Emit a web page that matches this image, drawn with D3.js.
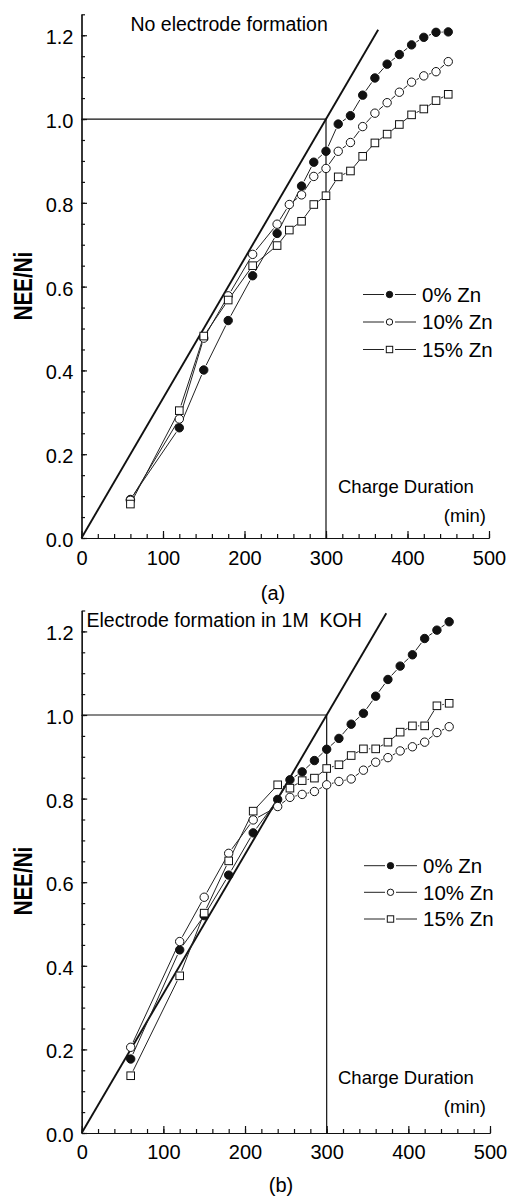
<!DOCTYPE html>
<html>
<head>
<meta charset="utf-8">
<script src="https://cdn.jsdelivr.net/npm/d3@7"></script>
<style>
  body { margin: 0; background: #fff; }
  svg text { font-family: "Liberation Sans", Arial, Helvetica, sans-serif; fill: #000; }
</style>
</head>
<body>
<svg id="chart" width="512" height="1197"></svg>
<script>
// ---- tick values ----
const xMajorTicks = [0, 100, 200, 300, 400, 500];
const xMinorTicks = d3.range(0, 501, 20);
const yMajorTicks = [0, 0.2, 0.4, 0.6, 0.8, 1.0, 1.2];
const yMinorTicks = d3.range(0, 1.2501, 0.05);
const yTickLabels = ["0.0", "0.2", "0.4", "0.6", "0.8", "1.0", "1.2"];

// ---- legend names ----
const seriesNames = ["0% Zn", "10% Zn", "15% Zn"];

// ---- reference: full charge at 300 min ----
const refTime = 300;
const refRatio = 1.0;
const diagEndA = 364;   // end of the theoretical line, panel (a)
const diagEndB = 373;   // end of the theoretical line, panel (b)

// ---- panel (a): no electrode formation ----
const timeA0 = [60, 120, 150, 180, 210, 240, 270, 285, 300, 315, 330, 345, 360, 375, 390, 405, 420, 435, 450];
const neeA0  = [0.092, 0.263, 0.401, 0.519, 0.626, 0.727, 0.840, 0.897, 0.923, 0.988, 1.008, 1.057, 1.098, 1.131, 1.154, 1.177, 1.195, 1.207, 1.208];
const timeA10 = [60, 120, 150, 180, 210, 240, 255, 270, 285, 300, 315, 330, 345, 360, 375, 390, 405, 420, 435, 450];
const neeA10  = [0.090, 0.284, 0.477, 0.578, 0.677, 0.749, 0.796, 0.819, 0.863, 0.882, 0.923, 0.944, 0.982, 1.014, 1.039, 1.064, 1.088, 1.103, 1.113, 1.137];
const timeA15 = [60, 120, 150, 180, 210, 240, 255, 270, 285, 300, 315, 330, 345, 360, 375, 390, 405, 420, 435, 450];
const neeA15  = [0.081, 0.304, 0.482, 0.568, 0.650, 0.698, 0.735, 0.756, 0.796, 0.817, 0.862, 0.876, 0.911, 0.943, 0.964, 0.987, 1.010, 1.024, 1.044, 1.059];

// ---- panel (b): electrode formation in 1M KOH ----
const timeB = [60, 120, 150, 180, 210, 240, 255, 270, 285, 300, 315, 330, 345, 360, 375, 390, 405, 420, 435, 450];
const neeB0  = [0.177, 0.438, 0.520, 0.617, 0.718, 0.798, 0.845, 0.864, 0.891, 0.918, 0.944, 0.978, 1.004, 1.045, 1.085, 1.117, 1.144, 1.183, 1.203, 1.223];
const neeB10 = [0.205, 0.458, 0.564, 0.669, 0.749, 0.781, 0.803, 0.810, 0.817, 0.833, 0.841, 0.847, 0.868, 0.887, 0.898, 0.914, 0.924, 0.935, 0.958, 0.972];
const neeB15 = [0.137, 0.376, 0.526, 0.651, 0.770, 0.833, 0.825, 0.843, 0.849, 0.872, 0.881, 0.903, 0.919, 0.919, 0.935, 0.959, 0.974, 0.974, 1.022, 1.028];

const svg = d3.select("#chart");

function zip(xs, ys) { return xs.map((t, i) => ({ t: t, v: ys[i] })); }

// draw one marker of the given style (0 filled circle, 1 open circle, 2 open square)
function marker(g, kind, cx, cy, r) {
  if (kind === 2) {
    g.append("rect").attr("x", cx - r).attr("y", cy - r)
      .attr("width", 2 * r).attr("height", 2 * r)
      .attr("fill", "#fff").attr("stroke", "#111").attr("stroke-width", 1);
  } else {
    g.append("circle").attr("cx", cx).attr("cy", cy).attr("r", r)
      .attr("fill", kind === 0 ? "#111" : "#fff")
      .attr("stroke", "#111").attr("stroke-width", 1);
  }
}

function drawPanel(cfg) {
  const x = d3.scaleLinear().domain([0, 500]).range([cfg.x0, cfg.x1]);
  const y = d3.scaleLinear().domain([0, 1.25]).range([cfg.y0, cfg.y1]);
  const g = svg.append("g");

  // axes: ticks point inward
  const xAxisMinor = d3.axisBottom(x).tickValues(xMinorTicks).tickSizeInner(-4).tickSizeOuter(0).tickFormat("");
  const xAxisMajor = d3.axisBottom(x).tickValues(xMajorTicks).tickSizeInner(-7).tickSizeOuter(0)
    .tickPadding(cfg.xPad).tickFormat(d3.format("d"));
  const yAxisMinor = d3.axisLeft(y).tickValues(yMinorTicks).tickSizeInner(-3.5).tickSizeOuter(0).tickFormat("");
  const yAxisMajor = d3.axisLeft(y).tickValues(yMajorTicks).tickSizeInner(-5.5).tickSizeOuter(0)
    .tickPadding(8).tickFormat((d, i) => yTickLabels[i]);

  [xAxisMinor, xAxisMajor].forEach(ax => {
    const a = g.append("g").attr("transform", `translate(0,${cfg.y0})`).call(ax);
    a.selectAll("path,line").attr("stroke", "#111").attr("stroke-width", 1.2);
    a.selectAll("text").style("font-size", "20px").attr("fill", "#000");
  });
  [yAxisMinor, yAxisMajor].forEach(ax => {
    const a = g.append("g").attr("transform", `translate(${cfg.x0},0)`).call(ax);
    a.selectAll("path,line").attr("stroke", "#111").attr("stroke-width", 1.2);
    a.selectAll("text").style("font-size", "20px").attr("dy", "0.42em").attr("fill", "#000");
  });

  // reference lines at full charge
  g.append("path")
    .attr("d", d3.line()([[x(0), y(refRatio)], [x(refTime), y(refRatio)], [x(refTime), y(0)]]))
    .attr("fill", "none").attr("stroke", "#111").attr("stroke-width", 1.2);

  // theoretical line through the origin and (300 min, 1.0)
  g.append("line")
    .attr("x1", x(0)).attr("y1", y(0))
    .attr("x2", x(cfg.diagEnd)).attr("y2", y(cfg.diagEnd * refRatio / refTime))
    .attr("stroke", "#111").attr("stroke-width", 1.9);

  // series: connecting segments broken around markers, then markers
  const gap = 5.5;
  cfg.series.forEach((pts, k) => {
    const px = pts.map(p => [x(p.t), y(p.v)]);
    for (let i = 0; i < px.length - 1; i++) {
      const [ax, ay] = px[i], [bx, by] = px[i + 1];
      const dx = bx - ax, dy = by - ay, d = Math.hypot(dx, dy);
      if (d <= 2 * gap + 1) continue;
      const ux = dx / d, uy = dy / d;
      g.append("line")
        .attr("x1", ax + ux * gap).attr("y1", ay + uy * gap)
        .attr("x2", bx - ux * gap).attr("y2", by - uy * gap)
        .attr("stroke", "#222").attr("stroke-width", 1);
    }
  });
  cfg.series.forEach((pts, k) => {
    pts.forEach(p => marker(g, k, x(p.t), y(p.v), k === 2 ? 3.8 : 4.2));
  });

  // legend
  seriesNames.forEach((name, k) => {
    const ly = cfg.legendY[k];
    const lx = cfg.legendX;
    g.append("line").attr("x1", lx).attr("x2", lx + 21).attr("y1", ly).attr("y2", ly)
      .attr("stroke", "#222").attr("stroke-width", 1);
    g.append("line").attr("x1", lx + 32).attr("x2", lx + 53).attr("y1", ly).attr("y2", ly)
      .attr("stroke", "#222").attr("stroke-width", 1);
    marker(g, k, lx + 26.5, ly, 3.2);
    g.append("text").attr("x", lx + 59).attr("y", ly).attr("dy", "0.36em")
      .style("font-size", "20.5px").text(name);
  });

  // annotations
  g.append("text").attr("x", cfg.titleX).attr("y", cfg.titleY)
    .style("font-size", "19.5px").text(cfg.title);
  g.append("text").attr("x", 338).attr("y", cfg.cdY)
    .style("font-size", "18.5px").text("Charge Duration");
  g.append("text").attr("x", 486).attr("y", cfg.cdY + 29).attr("text-anchor", "end")
    .style("font-size", "18.5px").text("(min)");
  g.append("text")
    .attr("transform", `translate(31.5,${cfg.labelY}) rotate(-90) scale(0.82,1)`)
    .attr("text-anchor", "middle").style("font-size", "25px").style("font-weight", "bold")
    .text("NEE/Ni");
  g.append("text").attr("x", cfg.tagX).attr("y", cfg.tagY).attr("text-anchor", "middle")
    .style("font-size", "20px").text(cfg.tag);
}

drawPanel({
  x0: 81.5, x1: 489, y0: 538, y1: 14.3, xPad: 12.5,
  diagEnd: diagEndA,
  series: [zip(timeA0, neeA0), zip(timeA10, neeA10), zip(timeA15, neeA15)],
  legendX: 363, legendY: [294.5, 322, 349.5],
  title: "No electrode formation", titleX: 130.5, titleY: 31,
  cdY: 492.5, labelY: 286,
  tag: "(a)", tagX: 273, tagY: 600
});

drawPanel({
  x0: 81.7, x1: 490, y0: 1133, y1: 610.5, xPad: 11.5,
  diagEnd: diagEndB,
  series: [zip(timeB, neeB0), zip(timeB, neeB10), zip(timeB, neeB15)],
  legendX: 364, legendY: [865.7, 892.3, 919],
  title: "Electrode formation in 1M\u00a0 KOH", titleX: 86.5, titleY: 626.5,
  cdY: 1083.5, labelY: 881,
  tag: "(b)", tagX: 281, tagY: 1192
});
</script>
</body>
</html>
